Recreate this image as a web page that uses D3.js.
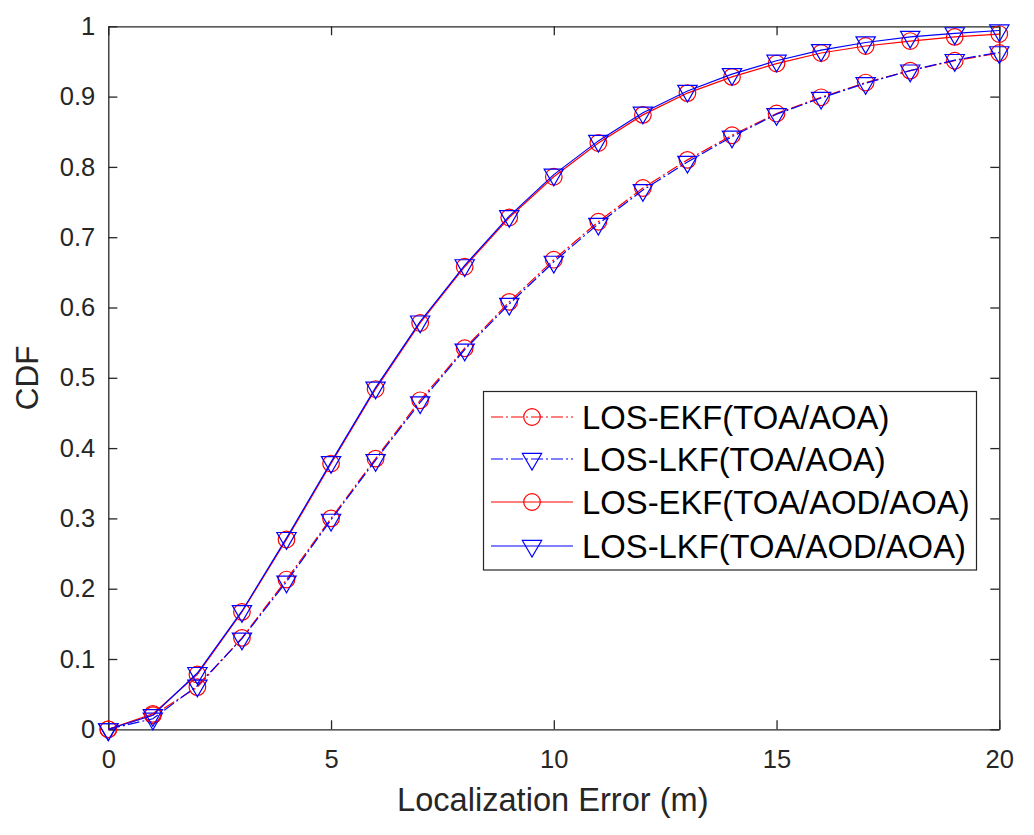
<!DOCTYPE html>
<html>
<head>
<meta charset="utf-8">
<script src="https://cdn.jsdelivr.net/npm/d3@7"></script>
<style>
  html, body { margin: 0; padding: 0; background: #fff; }
  svg { display: block; font-family: "Liberation Sans", Arial, Helvetica, sans-serif; }
</style>
</head>
<body>
<svg id="chart" width="1034" height="835"></svg>
<script>
// ---- data ----
const xValues = [0,1,2,3,4,5,6,7,8,9,10,11,12,13,14,15,16,17,18,19,20];
const ekfToaAoa = [0, 0.020, 0.060, 0.130, 0.213, 0.300, 0.385, 0.468, 0.542, 0.608, 0.668, 0.722, 0.770, 0.810, 0.845, 0.876, 0.899, 0.920, 0.937, 0.951, 0.962];
const lkfToaAoa = [0, 0.015, 0.062, 0.129, 0.210, 0.298, 0.383, 0.465, 0.540, 0.605, 0.665, 0.719, 0.767, 0.807, 0.843, 0.875, 0.898, 0.919, 0.937, 0.952, 0.963];
const ekfToaAodAoa = [0, 0.022, 0.078, 0.167, 0.270, 0.378, 0.484, 0.578, 0.658, 0.728, 0.786, 0.834, 0.874, 0.905, 0.928, 0.947, 0.962, 0.972, 0.979, 0.985, 0.989];
const lkfToaAodAoa = [0, 0.020, 0.080, 0.168, 0.272, 0.380, 0.486, 0.580, 0.660, 0.730, 0.789, 0.837, 0.877, 0.908, 0.932, 0.951, 0.966, 0.977, 0.985, 0.990, 0.994];
const seriesNames = ["LOS-EKF(TOA/AOA)", "LOS-LKF(TOA/AOA)", "LOS-EKF(TOA/AOD/AOA)", "LOS-LKF(TOA/AOD/AOA)"];
const xTicks = [0, 5, 10, 15, 20];
const yTicks = [0, 0.1, 0.2, 0.3, 0.4, 0.5, 0.6, 0.7, 0.8, 0.9, 1];
const xLabel = "Localization Error (m)";
const yLabel = "CDF";

// ---- layout ----
const L = 108.3, R = 999.3, T = 26.3, B = 729.3;
const axisColor = "#262626";
const svg = d3.select("#chart");

const x = d3.scaleLinear().domain([0, 20]).range([L, R]);
const y = d3.scaleLinear().domain([0, 1]).range([B, T]);

const series = [
  { name: seriesNames[0], values: ekfToaAoa, color: "#ff0000", dash: "12,3,2,3", marker: "circle" },
  { name: seriesNames[1], values: lkfToaAoa, color: "#0000ff", dash: "12,3,2,3", marker: "triangle" },
  { name: seriesNames[2], values: ekfToaAodAoa, color: "#ff0000", dash: null, marker: "circle" },
  { name: seriesNames[3], values: lkfToaAodAoa, color: "#0000ff", dash: null, marker: "triangle" }
];

svg.append("rect").attr("x", L).attr("y", T).attr("width", R - L).attr("height", B - T).attr("fill", "#fff");

// ---- axes ----
function styleAxis(g, showLabels) {
  g.selectAll(".domain").attr("stroke", axisColor).attr("stroke-width", 1.3);
  g.selectAll(".tick line").attr("stroke", axisColor).attr("stroke-width", 1.3);
  g.selectAll(".tick text").attr("fill", axisColor).style("font-size", "25.5px")
    .style("font-family", "'Liberation Sans', Arial, sans-serif");
  if (!showLabels) g.selectAll(".tick text").remove();
  g.attr("font-family", null).attr("font-size", null);
}

const gx = svg.append("g").attr("transform", `translate(0,${B})`)
  .call(d3.axisBottom(x).tickValues(xTicks).tickFormat(d3.format("d")).tickSizeInner(-9).tickSizeOuter(0).tickPadding(21));
styleAxis(gx, true);
const gxt = svg.append("g").attr("transform", `translate(0,${T})`)
  .call(d3.axisTop(x).tickValues(xTicks).tickSizeInner(-9).tickSizeOuter(0));
styleAxis(gxt, false);
const gy = svg.append("g").attr("transform", `translate(${L},0)`)
  .call(d3.axisLeft(y).tickValues(yTicks).tickFormat(d => d === 0 ? "0" : d === 1 ? "1" : d3.format(".1f")(d)).tickSizeInner(-9).tickSizeOuter(0).tickPadding(13));
styleAxis(gy, true);
const gyr = svg.append("g").attr("transform", `translate(${R},0)`)
  .call(d3.axisRight(y).tickValues(yTicks).tickSizeInner(-9).tickSizeOuter(0));
styleAxis(gyr, false);

// axis labels
svg.append("text").attr("x", (L + R) / 2 - 1).attr("y", 811).attr("text-anchor", "middle")
  .attr("fill", axisColor).style("font-size", "32.6px").text(xLabel);
svg.append("text").attr("transform", `translate(38,${(T + B) / 2}) rotate(-90)`).attr("text-anchor", "middle")
  .attr("fill", axisColor).style("font-size", "31.5px").text(yLabel);

// ---- markers ----
const circR = 8.3;
const triH = 16.7, triW = 19.3;
function drawMarker(g, cx, cy, type, color) {
  if (type === "circle") {
    g.append("circle").attr("cx", cx).attr("cy", cy).attr("r", circR)
      .attr("fill", "none").attr("stroke", color).attr("stroke-width", 1.2);
  } else {
    const pts = [[cx - triW / 2, cy - triH / 3], [cx + triW / 2, cy - triH / 3], [cx, cy + 2 * triH / 3]];
    g.append("path").attr("d", "M" + pts.map(p => p.join(",")).join("L") + "Z")
      .attr("fill", "none").attr("stroke", color).attr("stroke-width", 1.2);
  }
}

const line = d3.line().x(d => x(d[0])).y(d => y(d[1]));
const plot = svg.append("g");
series.forEach(s => {
  const pts = xValues.map((xv, i) => [xv, s.values[i]]);
  const g = plot.append("g");
  g.append("path").datum(pts).attr("d", line).attr("fill", "none")
    .attr("stroke", s.color).attr("stroke-width", 1.2)
    .attr("stroke-dasharray", s.dash);
  pts.forEach(p => drawMarker(g, x(p[0]), y(p[1]), s.marker, s.color));
});

// ---- legend ----
const lg = svg.append("g");
lg.append("rect").attr("x", 483.5).attr("y", 391.5).attr("width", 493).attr("height", 178.5)
  .attr("fill", "#fff").attr("stroke", axisColor).attr("stroke-width", 1.2);
const rowY = [417, 459, 502, 546];
series.forEach((s, i) => {
  lg.append("line").attr("x1", 491).attr("x2", 573).attr("y1", rowY[i]).attr("y2", rowY[i])
    .attr("stroke", s.color).attr("stroke-width", 1.2).attr("stroke-dasharray", s.dash);
  drawMarker(lg, 532, rowY[i], s.marker, s.color);
  lg.append("text").attr("x", 582).attr("y", rowY[i]).attr("dy", "0.36em")
    .attr("fill", "#000").style("font-size", "32.8px").text(s.name);
});
</script>
</body>
</html>
